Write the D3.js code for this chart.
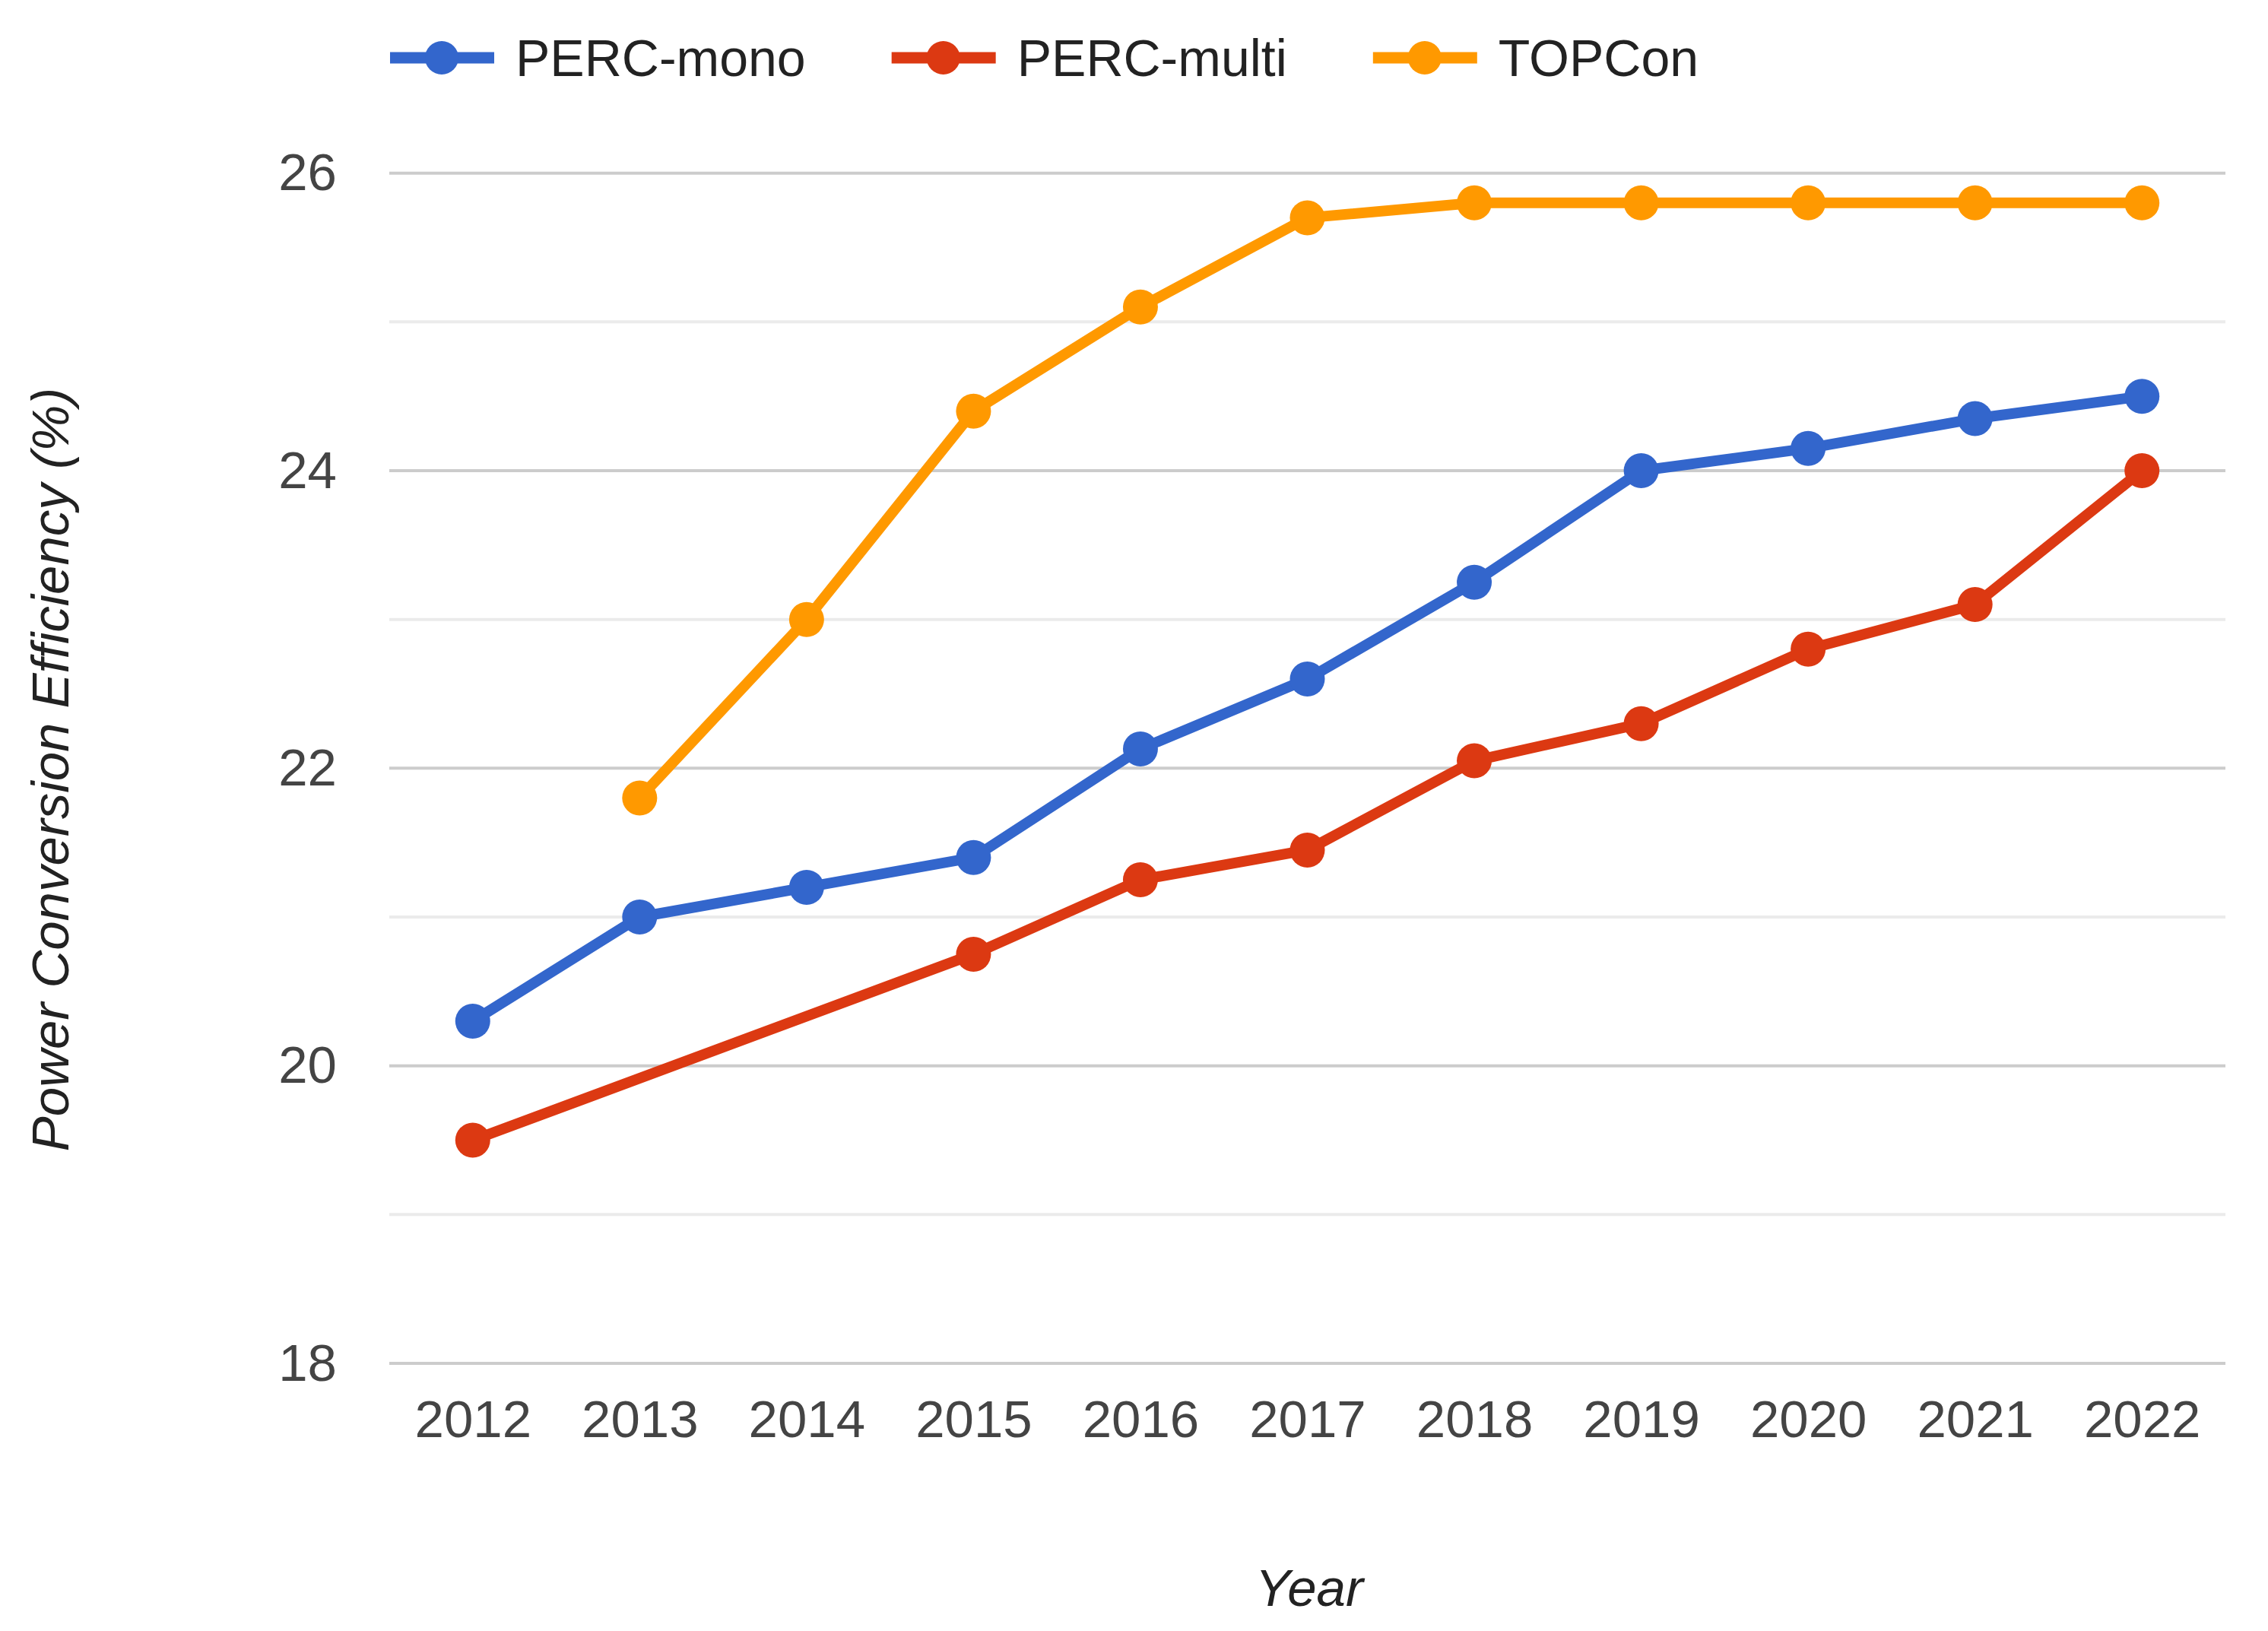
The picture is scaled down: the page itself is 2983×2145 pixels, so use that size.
<!DOCTYPE html>
<html>
<head>
<meta charset="utf-8">
<script src="https://cdn.jsdelivr.net/npm/d3@7"></script>
<style>
  body { margin: 0; background: #fff; }
  svg { display: block; font-family: "Liberation Sans", Arial, sans-serif; }
</style>
</head>
<body>
<div id="chart"></div>
<script>
// data
const years = [2012, 2013, 2014, 2015, 2016, 2017, 2018, 2019, 2020, 2021, 2022];
const percMono = [20.3, 21.0, 21.2, 21.4, 22.13, 22.6, 23.25, 24.0, 24.15, 24.35, 24.5];
const percMulti = [19.5, null, null, 20.75, 21.25, 21.45, 22.05, 22.3, 22.8, 23.1, 24.0];
const topcon = [null, 21.8, 23.0, 24.4, 25.1, 25.7, 25.8, 25.8, 25.8, 25.8, 25.8];
const seriesNames = ["PERC-mono", "PERC-multi", "TOPCon"];
const yTicks = [18, 20, 22, 24, 26];

const colors = ["#3366cc", "#dc3912", "#ff9900"];
const series = [percMono, percMulti, topcon].map((vals, i) => ({
    name: seriesNames[i],
    color: colors[i],
    points: years.map((yr, j) => ({ year: yr, v: vals[j] })).filter(p => p.v !== null)
}));

const W = 2983, H = 2145;
const svg = d3.select('#chart').append('svg')
    .attr('width', W)
    .attr('height', H);

const x = d3.scalePoint().domain(years).range([512, 2927]).padding(0.5);
const y = d3.scaleLinear().domain([18, 26]).range([1793, 227.7]);

// gridlines, major at the labelled values
svg.append('g').selectAll('line')
    .data(d3.range(18, 27))
    .enter().append('line')
    .attr('x1', 512).attr('x2', 2927)
    .attr('y1', d => y(d)).attr('y2', d => y(d))
    .attr('stroke', d => d % 2 === 0 ? '#cccccc' : '#ebebeb')
    .attr('stroke-width', 4);

// y axis labels
const yAxis = svg.append('g')
    .attr('transform', 'translate(443,0)')
    .call(d3.axisLeft(y).tickValues(yTicks).tickSize(0).tickPadding(0).tickFormat(d3.format('d')));
yAxis.select('.domain').remove();
yAxis.selectAll('text')
    .attr('font-size', 69)
    .attr('font-family', '"Liberation Sans", Arial, sans-serif')
    .attr('fill', '#444');

// x axis labels
const xAxis = svg.append('g')
    .attr('transform', 'translate(0,1841)')
    .call(d3.axisBottom(x).tickSize(0).tickPadding(0));
xAxis.select('.domain').remove();
xAxis.selectAll('text')
    .attr('font-size', 69)
    .attr('font-family', '"Liberation Sans", Arial, sans-serif')
    .attr('fill', '#444');

// axis titles
svg.append('text')
    .attr('x', 1722).attr('y', 2112)
    .attr('text-anchor', 'middle')
    .attr('font-size', 69)
    .attr('font-style', 'italic')
    .attr('fill', '#222')
    .text('Year');

svg.append('text')
    .attr('transform', 'translate(90,1012) rotate(-90)')
    .attr('text-anchor', 'middle')
    .attr('font-size', 69)
    .attr('font-style', 'italic')
    .attr('fill', '#222')
    .text('Power Conversion Efficiency (%)');

// lines + points (nulls are skipped, line joins across them)
const line = d3.line()
    .x(d => x(d.year))
    .y(d => y(d.v));

const sg = svg.append('g').selectAll('g')
    .data(series)
    .enter().append('g');

sg.append('path')
    .attr('d', d => line(d.points))
    .attr('fill', 'none')
    .attr('stroke', d => d.color)
    .attr('stroke-width', 14)
    .attr('stroke-linejoin', 'round');

sg.selectAll('circle')
    .data(d => d.points.map(p => ({ ...p, color: d.color })))
    .enter().append('circle')
    .attr('cx', d => x(d.year))
    .attr('cy', d => y(d.v))
    .attr('r', 23)
    .attr('fill', d => d.color);

// legend
const legend = svg.append('g');
let lx = 513;
series.forEach(s => {
    const item = legend.append('g').attr('transform', `translate(${lx},76)`);
    item.append('line')
        .attr('x1', 0).attr('x2', 137)
        .attr('y1', 0).attr('y2', 0)
        .attr('stroke', s.color)
        .attr('stroke-width', 15);
    item.append('circle')
        .attr('cx', 68).attr('cy', 0).attr('r', 22)
        .attr('fill', s.color);
    const t = item.append('text')
        .attr('x', 165).attr('y', 24)
        .attr('font-size', 68)
        .attr('fill', '#222')
        .text(s.name);
    lx += 165 + t.node().getComputedTextLength() + 113;
});
</script>
</body>
</html>
